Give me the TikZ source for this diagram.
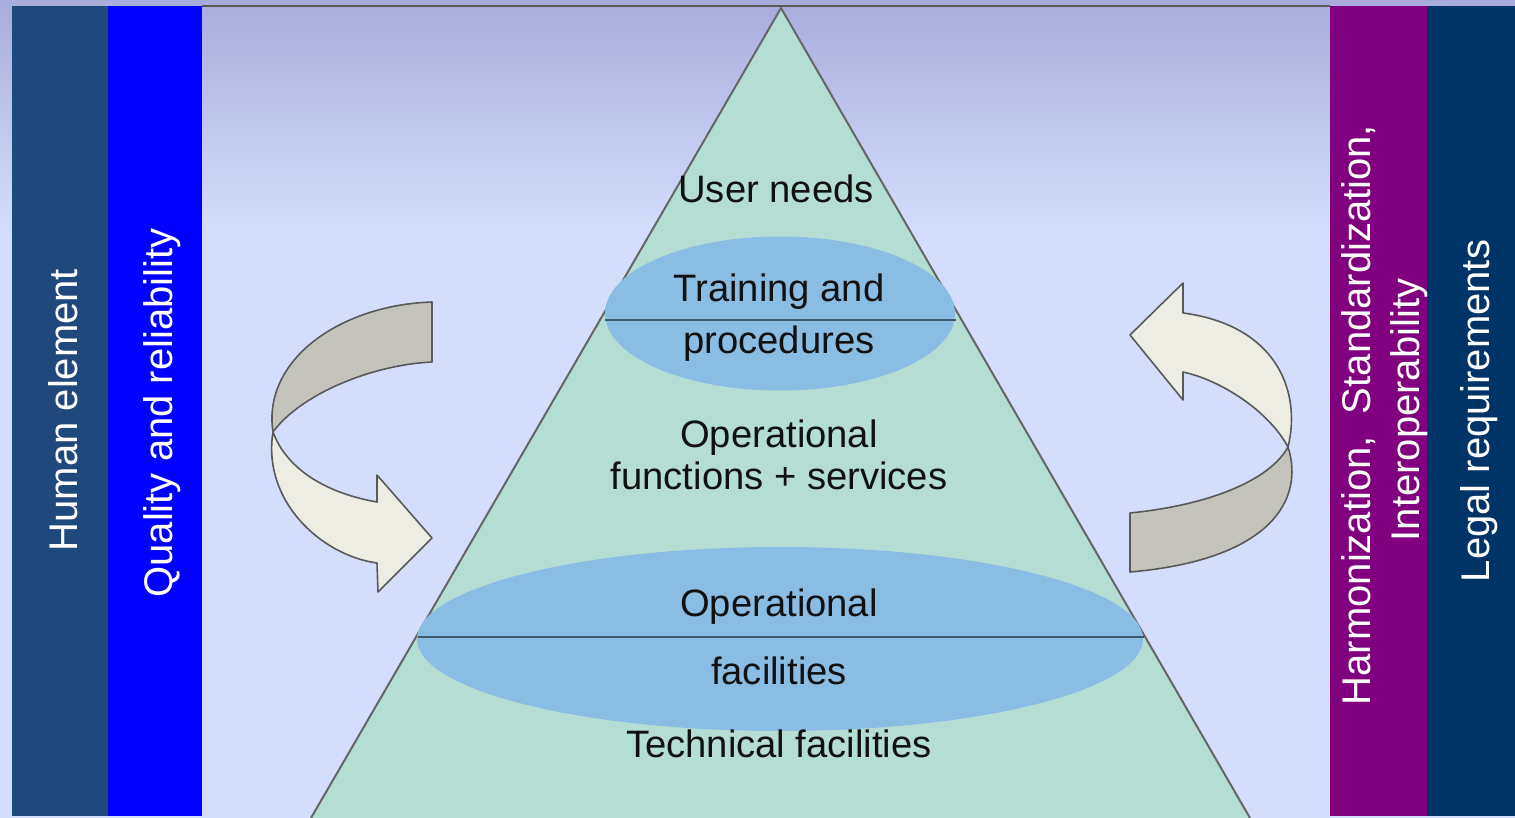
\documentclass[tikz,border=0pt]{standalone}
\usepackage{fontspec}
\setmainfont{Liberation Sans}
\definecolor{bgtop}{HTML}{A8ACDC}
\definecolor{bgbot}{HTML}{D4DEFC}
\definecolor{human}{HTML}{1F497D}
\definecolor{quality}{HTML}{0000FF}
\definecolor{harmon}{HTML}{800080}
\definecolor{legal}{HTML}{003366}
\definecolor{tri}{HTML}{B4DED4}
\definecolor{ell}{HTML}{8ABDE4}
\definecolor{sepline}{HTML}{3D5A70}
\definecolor{armgray}{HTML}{C4C4BC}
\definecolor{armlight}{HTML}{EEEDE3}
\definecolor{ink}{HTML}{111111}
\begin{document}
\begin{tikzpicture}[x=0.5pt,y=-0.5pt,
  ctext/.style={font=\fontsize{19.1}{23}\selectfont, text=ink, anchor=base, inner sep=0pt},
  vtext/.style={font=\fontsize{20}{24}\selectfont, text=white, anchor=base, rotate=90, inner sep=0pt},
  band/.style={draw=black!65, line width=0.8pt, line join=round},
  sep/.style={draw=sepline, line width=1.1pt}
]
\useasboundingbox (0,0) rectangle (1515,818);
% background
\shade[top color=bgtop, bottom color=bgbot] (0,0) rectangle (1515,232);
\fill[bgbot] (0,231) rectangle (1515,818);
% side bars
\fill[human] (12,6) rectangle (108,816);
\fill[quality] (108,6) rectangle (202,816);
\fill[harmon] (1330,6) rectangle (1427,816);
\fill[legal] (1427,6) rectangle (1515,816);
\draw[black!65, line width=1pt] (202,6.5) -- (1330,6.5);
% pyramid
\fill[tri] (781,8) -- (311,818) -- (1250,818) -- cycle;
\draw[black!60, line width=1pt, line join=round] (311,818) -- (781,8) -- (1250,818);
% ellipses
\fill[ell] (780,313.5) ellipse [x radius=175, y radius=77];
\draw[sep] (605,320) -- (956,320);
\fill[ell] (780,639) ellipse [x radius=363, y radius=92];
\draw[sep] (418,637) -- (1144,637);
% left curved arrow
\filldraw[band, fill=armlight] (273,432) .. controls (262,500) and (320,555) .. (377,563) -- (378,592) -- (432,538) -- (377,475) -- (377,502) .. controls (320,492) and (285,465) .. (273,432) -- cycle;
\filldraw[band, fill=armgray] (273,432) .. controls (262,360) and (340,305) .. (432,302) -- (432,362) .. controls (370,365) and (300,395) .. (273,432) -- cycle;
% right curved arrow
\filldraw[band, fill=armlight] (1288,447) .. controls (1302,390) and (1275,325) .. (1183,313) -- (1183,283) -- (1130,335) -- (1183,400) -- (1183,372) .. controls (1220,380) and (1268,410) .. (1288,447) -- cycle;
\filldraw[band, fill=armgray] (1288,447) .. controls (1305,500) and (1270,560) .. (1130,572) -- (1130,513) .. controls (1210,505) and (1270,480) .. (1288,447) -- cycle;
% pyramid texts
\node[ctext] (user) at (776,203) {User needs};
\node[ctext] (train1) at (779,301) {Training and};
\node[ctext] (train2) at (779,353) {procedures};
\node[ctext] (opf1) at (779,447) {Operational};
\node[ctext] (opf2) at (779,489) {functions + services};
\node[ctext] (opfac1) at (779,616) {Operational};
\node[ctext] (opfac2) at (779,684) {facilities};
\node[ctext] (tech) at (779,757) {Technical facilities};
% vertical texts
\node[vtext] (humanel) at (77,410) {Human element};
\node[vtext] (qual) at (172,413) {Quality and reliability};
\node[vtext] (harm1) at (1370,415) {Harmonization,\ \ Standardization,};
\node[vtext] (harm2) at (1419,410) {Interoperability};
\node[vtext] (legalreq) at (1489,411) {Legal requirements};
\end{tikzpicture}
\end{document}
